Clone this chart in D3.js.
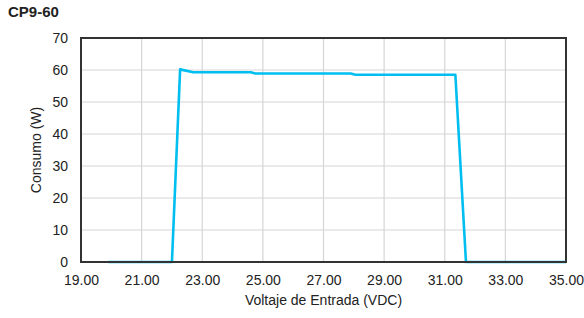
<!DOCTYPE html>
<html>
<head>
<meta charset="utf-8">
<script src="https://cdn.jsdelivr.net/npm/d3@7"></script>
<style>
  body { margin: 0; background: #fff; }
  text { font-family: "Liberation Sans", Arial, sans-serif; fill: #222; }
</style>
</head>
<body>
<svg id="chart" width="584" height="318"></svg>
<script>
// data
const voltage = [19.9, 22.0, 22.27, 22.7, 24.6, 24.75, 27.9, 28.05, 31.35, 31.7, 35.0];
const power   = [0,    0,    60.2,  59.3, 59.3, 58.9,  58.9, 58.5,  58.5,  0,    0];
const xTicks = [19, 21, 23, 25, 27, 29, 31, 33, 35];
const yTicks = [0, 10, 20, 30, 40, 50, 60, 70];

const margin = {top: 38, right: 18, bottom: 56, left: 81};
const width = 584 - margin.left - margin.right;
const height = 318 - margin.top - margin.bottom;

const svg = d3.select("#chart");
const g = svg.append("g").attr("transform", `translate(${margin.left},${margin.top})`);

const x = d3.scaleLinear().domain([19, 35]).range([0, width]);
const y = d3.scaleLinear().domain([0, 70]).range([height, 0]);

// grid
g.append("g")
  .selectAll("line")
  .data(xTicks)
  .enter().append("line")
  .attr("x1", d => x(d)).attr("x2", d => x(d))
  .attr("y1", 0).attr("y2", height)
  .attr("stroke", "#d6d6d6").attr("stroke-width", 1.2);

g.append("g")
  .selectAll("line")
  .data(yTicks)
  .enter().append("line")
  .attr("x1", 0).attr("x2", width)
  .attr("y1", d => y(d)).attr("y2", d => y(d))
  .attr("stroke", "#d6d6d6").attr("stroke-width", 1.2);

// axes (labels only)
const xAxis = g.append("g")
  .attr("transform", `translate(0,${height})`)
  .call(d3.axisBottom(x).tickValues(xTicks).tickFormat(d3.format(".2f")).tickSize(0).tickPadding(13));
const yAxis = g.append("g")
  .call(d3.axisLeft(y).tickValues(yTicks).tickSize(0).tickPadding(13));
[xAxis, yAxis].forEach(a => {
  a.select(".domain").remove();
  a.selectAll("text").style("font-size", "14px").style("font-family", "'Liberation Sans', Arial, sans-serif").attr("fill", "#222");
});

// line
const line = d3.line().x((d, i) => x(voltage[i])).y(d => y(d));
g.append("path")
  .datum(power)
  .attr("d", line)
  .attr("fill", "none")
  .attr("stroke", "#00bff0")
  .attr("stroke-width", 2.6)
  .attr("stroke-linejoin", "round");

// frame
g.append("rect")
  .attr("width", width).attr("height", height)
  .attr("fill", "none")
  .attr("stroke", "#333").attr("stroke-width", 2);

// title and axis titles
svg.append("text")
  .attr("x", 8).attr("y", 17)
  .style("font-size", "15px").style("font-weight", "bold")
  .text("CP9-60");

svg.append("text")
  .attr("x", margin.left + width / 2).attr("y", 305)
  .attr("text-anchor", "middle")
  .style("font-size", "14px")
  .text("Voltaje de Entrada (VDC)");

svg.append("text")
  .attr("transform", `translate(41,${margin.top + height / 2}) rotate(-90)`)
  .attr("text-anchor", "middle")
  .style("font-size", "14px")
  .text("Consumo (W)");
</script>
</body>
</html>
